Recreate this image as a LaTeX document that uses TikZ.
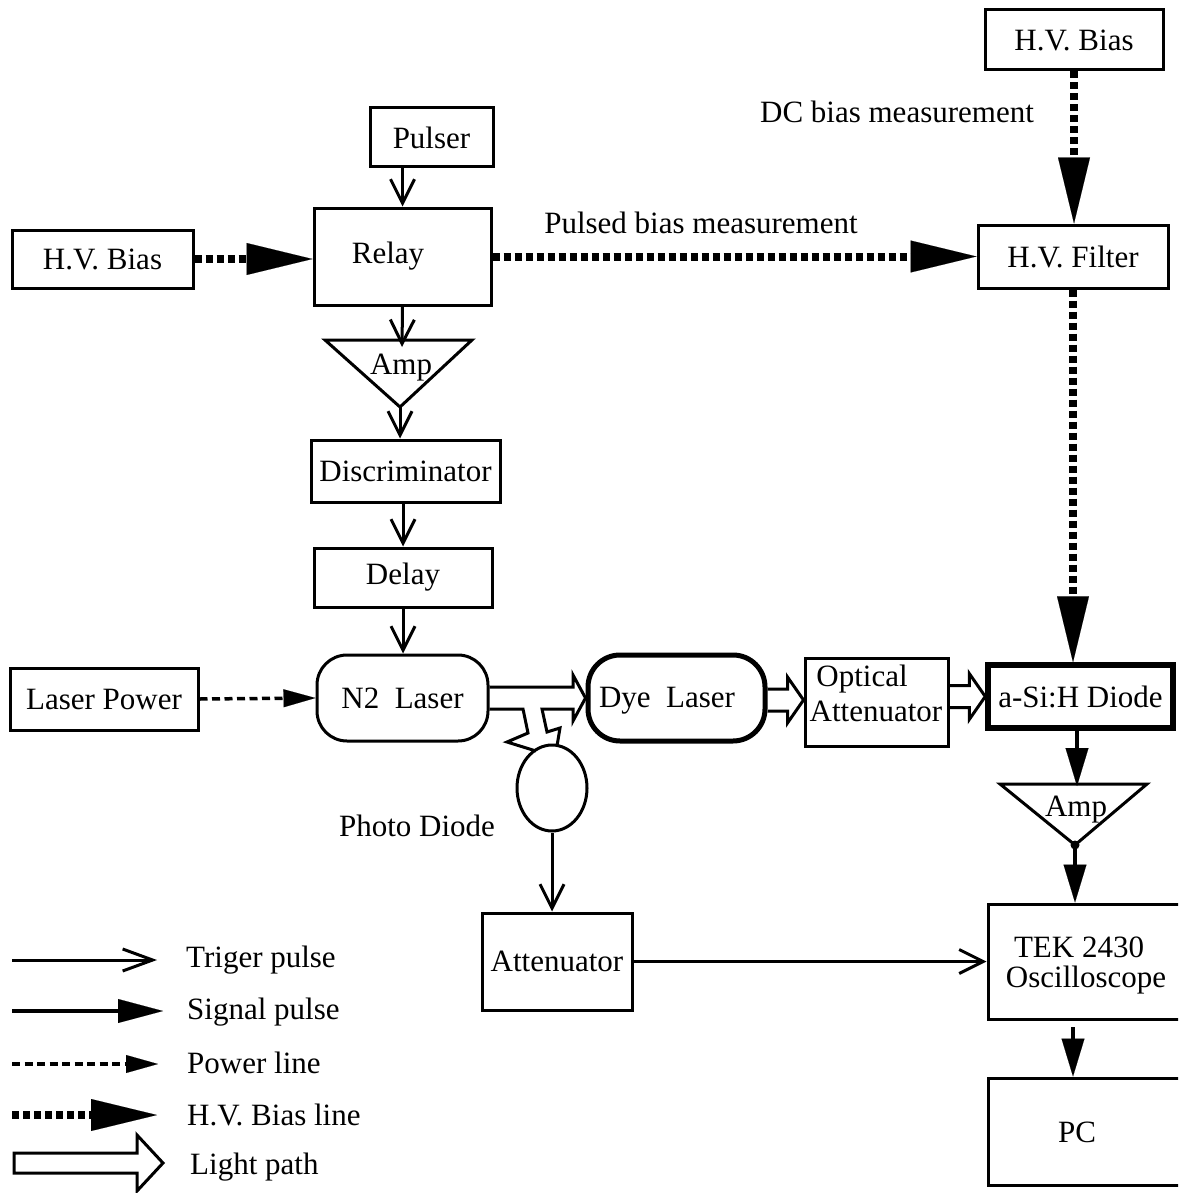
\documentclass[tikz,border=0pt]{standalone}
\usepackage{fontspec}
\setmainfont{Liberation Serif}
\usetikzlibrary{arrows.meta,calc,shapes.geometric}
\newcommand{\lightpath}[2]{%
  \draw[lightline] ($(#1)+(0,-11)$) -- ($(#2)+(-16,-11)$) -- ($(#2)+(-16,-23)$) -- (#2)
    -- ($(#2)+(-16,23)$) -- ($(#2)+(-16,11)$) -- ($(#1)+(0,11)$);}
\begin{document}
\begin{tikzpicture}[x=1pt,y=-1pt,
  font=\fontsize{31}{35}\selectfont,
  box/.style={draw, line width=3pt, inner sep=0pt, align=center},
  boxline/.style={line width=3pt, line join=miter},
  trig/.style={line width=3pt, -{Straight Barb[length=24pt,width=24pt]}},
  sig/.style={line width=4.5pt, -{Triangle[length=38pt,width=23pt,line width=0.1pt]}},
  powerline/.style={line width=3.5pt, dash pattern=on 8pt off 4.5pt, -{Triangle[length=32pt,width=18pt,line width=0.1pt]}},
  hvline/.style={line width=8pt, dash pattern=on 7pt off 4pt, -{Triangle[length=66pt,width=32pt,line width=0.1pt]}},
  lightline/.style={line width=3pt, line join=miter},
  txt/.style={inner sep=0pt}
]
\useasboundingbox (0,0) rectangle (1178,1193);
\clip (0,0) rectangle (1178,1193);
\fill[white] (0,0) rectangle (1178,1193);

% boxes
\node[box, minimum width=178pt, minimum height=60pt] (hvtop) at (1074,40) {H.V. Bias};
\node[box, minimum width=123pt, minimum height=59pt] (pulser) at (431.5,137.5) {Pulser};
\node[box, minimum width=177pt, minimum height=97pt] (relay) at (402.5,256.5) {};
\node[txt] (relaytxt) at (388,256) {Relay};
\node[box, minimum width=181pt, minimum height=58pt] (hvleft) at (102.5,259) {H.V. Bias};
\node[box, minimum width=190pt, minimum height=63pt] (hvfilter) at (1073,256.5) {H.V. Filter};
\node[box, minimum width=189pt, minimum height=62pt] (disc) at (405.5,471) {Discriminator};
\node[box, minimum width=178pt, minimum height=59pt] (delay) at (403,577.5) {Delay};
\node[box, rounded corners=30pt, minimum width=171pt, minimum height=86pt] (n2) at (402.5,698) {N2~~Laser};
\node[box, minimum width=188pt, minimum height=62pt] (laserpower) at (104,699) {Laser Power};
\node[box, line width=5pt, rounded corners=32pt, minimum width=177pt, minimum height=86pt] (dye) at (676.5,698) {};
\node[txt] (dyetxt) at (667,701) {Dye~~Laser};
\node[box, minimum width=143pt, minimum height=88pt] (optatt) at (876.5,702) {};
\node[txt] (opt1) at (862,679) {Optical};
\node[txt] (opt2) at (876,711) {Attenuator};
\node[box, line width=5.5pt, minimum width=185pt, minimum height=63pt] (asih) at (1080.5,696.5) {a-Si:H Diode};
\node[box, minimum width=197pt, minimum height=115pt] (tek) at (1086.5,961.5) {};
\node[txt] (tek1) at (1079,947) {TEK 2430};
\node[txt] (tek2) at (1086,980) {Oscilloscope};
\node[box, minimum width=197pt, minimum height=107pt] (pc) at (1086.5,1131.5) {};
\node[txt] (pctxt) at (1077,1132) {PC};
\node[box, ellipse, minimum width=70pt, minimum height=86pt] (photo) at (552,788) {};
\node[txt] (phototxt) at (417,826) {Photo Diode};
\node[box, minimum width=150pt, minimum height=97pt] (atten) at (557,961.5) {Attenuator};

% amplifiers
\coordinate (a1l) at (325,340);
\coordinate (a1r) at (472,340);
\coordinate (a1apex) at (400,407);
\coordinate (a1top) at (402,347);
\draw[boxline] (a1l) -- (a1r) -- (a1apex) -- cycle;
\node[txt] (amp1) at (401,368) {Amp};
\coordinate (a2l) at (1000,784);
\coordinate (a2r) at (1147,784);
\coordinate (a2apex) at (1075,845);
\coordinate (a2top) at (1077,786);
\draw[boxline] (a2l) -- (a2r) -- (a2apex) -- cycle;
\node[txt] (amp2) at (1076,810) {Amp};
\fill (a2apex) circle (4.5pt);

% labels
\node[txt] (dclabel) at (897,112) {DC bias measurement};
\node[txt] (pulselabel) at (701,223) {Pulsed bias measurement};

% trigger connectors
\draw[trig] (relay.north |- pulser.south) -- (relay.north);
\draw[trig] (relay.south) -- (a1top);
\draw[trig] (a1apex) -- (a1apex |- disc.north);
\draw[trig] (delay.north |- disc.south) -- (delay.north);
\draw[trig] (delay.south) -- (delay.south |- n2.north);
\draw[trig] (photo.south) -- (photo.south |- atten.north);
\draw[trig] (atten.east) -- (atten.east -| tek.west);

% power line
\draw[powerline] (laserpower.east) -- (n2.west);

% HV bias lines
\draw[hvline] (hvleft.east) -- (hvleft.east -| relay.west);
\draw[hvline] (relay.east) -- (hvfilter.west);
\draw[hvline] (hvtop.south) -- (hvtop.south |- hvfilter.north);
\draw[hvline] (hvfilter.south) -- (hvfilter.south |- asih.north);

% signal lines
\draw[sig] (asih.south -| a2top) -- (a2top);
\draw[sig] (a2apex) -- (a2apex |- tek.north);
\coordinate (tekpc) at (1073,1027);
\draw[sig] (tekpc) -- (tekpc |- pc.north);

% light paths
\draw[lightline] ($(n2.east)+(0,-11)$) -- (573,687) -- (573,675) -- (dye.west) -- (573,721) -- (573,709)
  -- (542,709) -- (547,732) -- (560,728) -- (557,746);
\draw[lightline] ($(n2.east)+(0,11)$) -- (523,709) -- (528,733) -- (507,742) -- (536,751);
\lightpath{dye.east |- 0,700}{optatt.west |- 0,700}
\lightpath{optatt.east |- asih.west}{asih.west}

% legend
\coordinate (l1a) at (12,960); \coordinate (l1b) at (157,960);
\draw[line width=3pt, -{Straight Barb[length=30pt,width=22pt]}] (l1a) -- (l1b);
\node[txt, anchor=west] (lt1) at (186,960) {Triger pulse};
\coordinate (l2a) at (12,1011); \coordinate (l2b) at (163,1011);
\draw[line width=4.5pt, -{Triangle[length=45pt,width=24pt,line width=0.1pt]}] (l2a) -- (l2b);
\node[txt, anchor=west] (lt2) at (187,1012) {Signal pulse};
\coordinate (l3a) at (12,1064); \coordinate (l3b) at (158,1064);
\draw[powerline] (l3a) -- (l3b);
\node[txt, anchor=west] (lt3) at (187,1063) {Power line};
\coordinate (l4a) at (12,1115); \coordinate (l4b) at (157,1115);
\draw[hvline] (l4a) -- (l4b);
\node[txt, anchor=west] (lt4) at (187,1115) {H.V. Bias line};
\coordinate (l5a) at (14,1163); \coordinate (l5b) at (163,1163);
\draw[lightline] ($(l5a)+(0,-10)$) -- ($(l5b)+(-26,-10)$) -- ($(l5b)+(-26,-28)$) -- (l5b)
  -- ($(l5b)+(-26,28)$) -- ($(l5b)+(-26,10)$) -- ($(l5a)+(0,10)$) -- cycle;
\node[txt, anchor=west] (lt5) at (190,1167) {Light path};
\end{tikzpicture}
\end{document}
